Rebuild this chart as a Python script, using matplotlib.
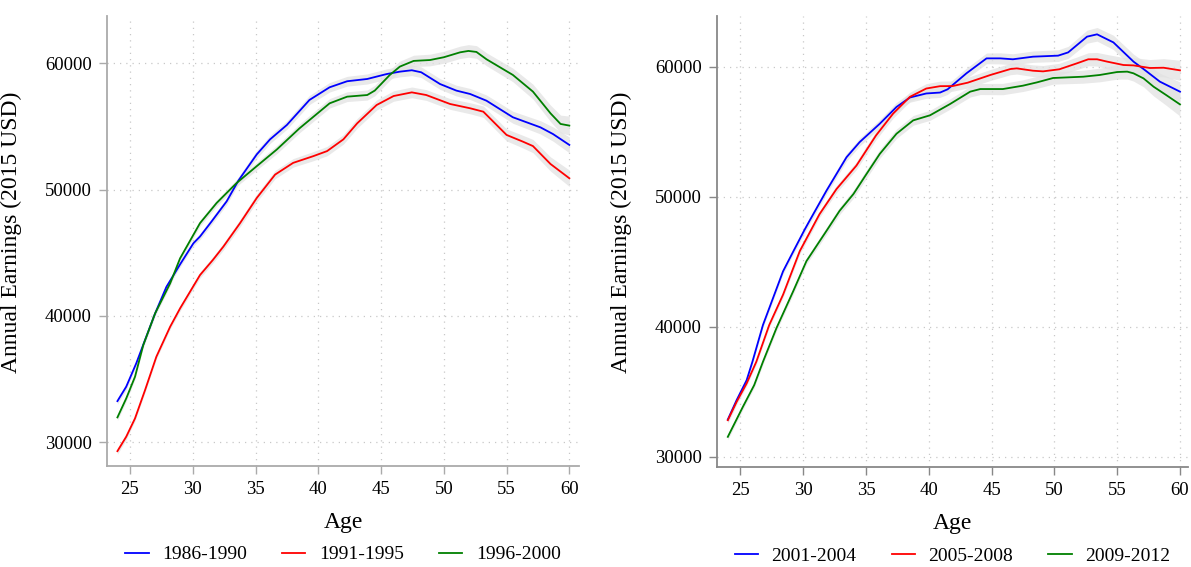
import matplotlib
matplotlib.use("Agg")
import matplotlib.pyplot as plt

plt.rcParams['font.family'] = ['Liberation Serif', 'DejaVu Serif']

# left panel: cohorts 1986-2000
left_labels = ['1986-1990', '1991-1995', '1996-2000']

age_8690 = [24.0, 24.7, 25.5, 26.2, 27.0, 27.9, 29.0, 30.05, 30.58, 31.5, 32.7, 33.64, 35.1, 36.16, 37.5, 39.3,
            40.9, 42.3, 43.9, 45.45, 46.5, 47.45, 48.2, 49.7, 51.0, 52.1, 53.4, 55.5, 57.7, 58.7, 60.0]
earn_8690 = [33260, 34400, 36250, 38100, 40200, 42300, 44100, 45750, 46290, 47480, 49070, 50720, 52790, 53980, 55120, 57100,
             58100, 58580, 58760, 59150, 59340, 59450, 59290, 58360, 57840, 57570, 57040, 55730, 54930, 54400, 53540]
ci_8690 = [200, 180, 160, 150, 150, 160, 170, 180, 190, 200, 210, 230, 250, 260, 270, 290,
           300, 310, 320, 330, 330, 340, 340, 340, 340, 350, 360, 380, 420, 450, 500]

age_9195 = [24.0, 24.7, 25.4, 26.2, 27.1, 28.2, 28.99, 30.58, 31.6, 32.44, 33.77, 35.1, 36.56, 38.0, 39.6,
            40.7, 42.0, 43.1, 44.65, 46.0, 47.45, 48.6, 50.5, 52.1, 53.15, 55.0, 56.3, 57.1, 58.5, 60.0]
earn_9195 = [29300, 30440, 31890, 34130, 36770, 39150, 40600, 43240, 44430, 45490, 47350, 49340, 51190, 52120, 52650,
             53050, 53980, 55250, 56700, 57410, 57700, 57490, 56780, 56440, 56170, 54330, 53800, 53450, 52030, 50900]
ci_9195 = [200, 180, 160, 150, 150, 160, 170, 190, 200, 210, 230, 250, 260, 270, 290,
           295, 300, 310, 320, 330, 340, 340, 340, 350, 360, 380, 400, 420, 450, 520]

age_9600 = [24.0, 24.7, 25.4, 26.06, 27.0, 28.2, 28.99, 30.58, 31.9, 33.5, 35.1, 36.7, 38.5, 40.9, 42.3, 43.9,
            44.5, 45.7, 46.5, 47.6, 48.9, 50.0, 51.3, 51.96, 52.6, 53.4, 55.5, 57.1, 58.5, 59.3, 60.0]
earn_9600 = [31970, 33470, 35190, 37700, 40200, 42580, 44560, 47350, 48940, 50530, 51860, 53180, 54850, 56830, 57360, 57490,
             57840, 59080, 59740, 60190, 60260, 60480, 60870, 60980, 60900, 60320, 59080, 57760, 56040, 55200, 55070]
ci_9600 = [200, 180, 160, 150, 150, 160, 170, 190, 200, 220, 240, 260, 280, 300, 310, 320,
           330, 340, 350, 360, 370, 380, 390, 400, 400, 410, 430, 470, 520, 560, 600]

# right panel: cohorts 2001-2012
right_labels = ['2001-2004', '2005-2008', '2009-2012']

age_0104 = [24.0, 24.7, 25.5, 25.96, 26.8, 28.4, 29.2, 30.1, 30.5, 31.85, 33.45, 34.5, 36.1, 37.43, 38.5, 39.8,
            40.9, 41.5, 43.0, 44.6, 45.7, 46.7, 48.3, 50.3, 51.1, 52.6, 53.4, 54.7, 56.3, 57.1, 58.4, 60.0]
earn_0104 = [32850, 34340, 35880, 37300, 40130, 44260, 45760, 47430, 48130, 50450, 53030, 54200, 55610, 56900, 57630, 57940,
             58010, 58260, 59490, 60640, 60640, 60570, 60770, 60850, 61100, 62310, 62490, 61870, 60390, 59820, 58850, 58080]
ci_0104 = [180, 170, 160, 160, 160, 170, 180, 190, 200, 210, 230, 240, 260, 280, 290, 300,
           300, 310, 320, 330, 340, 340, 350, 360, 370, 400, 420, 440, 460, 480, 520, 600]

age_0508 = [24.0, 24.7, 25.5, 26.27, 27.3, 28.4, 29.73, 31.3, 32.65, 34.24, 35.8, 37.16, 38.5, 39.8, 40.9, 41.9,
            43.1, 44.9, 46.5, 47.0, 48.3, 49.1, 50.4, 51.8, 52.7, 53.4, 54.2, 55.5, 56.3, 57.6, 58.7, 60.0]
earn_0508 = [32800, 34210, 35630, 37300, 40130, 42460, 45810, 48650, 50580, 52390, 54710, 56390, 57680, 58320, 58500, 58510,
             58770, 59360, 59820, 59870, 59690, 59640, 59800, 60260, 60570, 60570, 60390, 60130, 60100, 59900, 59920, 59720]
ci_0508 = [180, 170, 160, 160, 160, 170, 190, 200, 220, 240, 260, 280, 290, 300, 310, 320,
           330, 340, 350, 350, 360, 360, 370, 390, 400, 420, 440, 460, 480, 520, 560, 620]

age_0912 = [24.0, 25.2, 26.1, 26.8, 27.87, 29.2, 30.26, 31.85, 32.9, 34.0, 35.04, 36.1, 37.43, 38.76, 40.1, 41.7,
            43.3, 44.1, 45.9, 47.5, 48.6, 49.9, 52.3, 53.6, 55.0, 55.8, 56.3, 57.1, 57.9, 58.9, 60.0]
earn_0912 = [31520, 33830, 35500, 37300, 39880, 42710, 45040, 47360, 48910, 50200, 51740, 53290, 54840, 55870, 56260, 57130,
             58080, 58280, 58280, 58540, 58790, 59130, 59230, 59360, 59590, 59620, 59490, 59100, 58460, 57820, 57100]
ci_0912 = [180, 170, 160, 170, 180, 190, 200, 220, 230, 250, 260, 270, 290, 300, 310, 320,
           330, 340, 350, 360, 370, 380, 400, 420, 440, 460, 480, 520, 570, 630, 720]

colors = ['#0000ff', '#ff0000', '#008000']

fig = plt.figure(figsize=(11.91, 5.67), dpi=100)
ax1 = fig.add_axes([107 / 1191, 1 - 466 / 567, 472 / 1191, 450 / 567])
ax2 = fig.add_axes([717 / 1191, 1 - 467 / 567, 471 / 1191, 451 / 567])

panels = [
    (ax1, left_labels, [(age_8690, earn_8690, ci_8690), (age_9195, earn_9195, ci_9195), (age_9600, earn_9600, ci_9600)],
     (23.17, 60.77), (28124, 63745), '#aaaaaa'),
    (ax2, right_labels, [(age_0104, earn_0104, ci_0104), (age_0508, earn_0508, ci_0508), (age_0912, earn_0912, ci_0912)],
     (23.14, 60.64), (29200, 63900), '#888888'),
]

for ax, labels, series, xlim, ylim, spcol in panels:
    # confidence bands first, lines on top
    for age, earn, ci in series:
        lo = [e - 1.25 * c for e, c in zip(earn, ci)]
        hi = [e + 1.25 * c for e, c in zip(earn, ci)]
        ax.fill_between(age, lo, hi, color='#e2e2e2', alpha=0.75, linewidth=0, zorder=2)
    for (age, earn, ci), col, lab in zip(series, colors, labels):
        ax.plot(age, earn, color=col, linewidth=1.3, label=lab, zorder=3)

    ax.set_xlim(*xlim)
    ax.set_ylim(*ylim)
    ax.set_xticks([25, 30, 35, 40, 45, 50, 55, 60])
    ax.set_yticks([30000, 40000, 50000, 60000])
    ax.grid(True, color='#c8c8c8', linestyle=(0, (1, 4)), linewidth=0.9, zorder=0)
    for s in ['top', 'right']:
        ax.spines[s].set_visible(False)
    for s in ['left', 'bottom']:
        ax.spines[s].set_color(spcol)
        ax.spines[s].set_linewidth(1.3)
    ax.tick_params(axis='both', colors=spcol, labelcolor='black', labelsize=13.5, length=6, width=1.0, pad=5)

    ax.set_xlabel('Age', fontsize=17)
    ax.xaxis.set_label_coords(0.5, -0.102)
    ax.set_ylabel('Annual Earnings (2015 USD)', fontsize=17)
    ax.yaxis.set_label_coords(-0.18, 0.52)

    ax.legend(loc='center', bbox_to_anchor=(0.5, -0.197), ncol=3, frameon=False, fontsize=14,
              handlelength=1.2, handletextpad=0.7, columnspacing=1.8)

plt.savefig('out.png', dpi=100)
